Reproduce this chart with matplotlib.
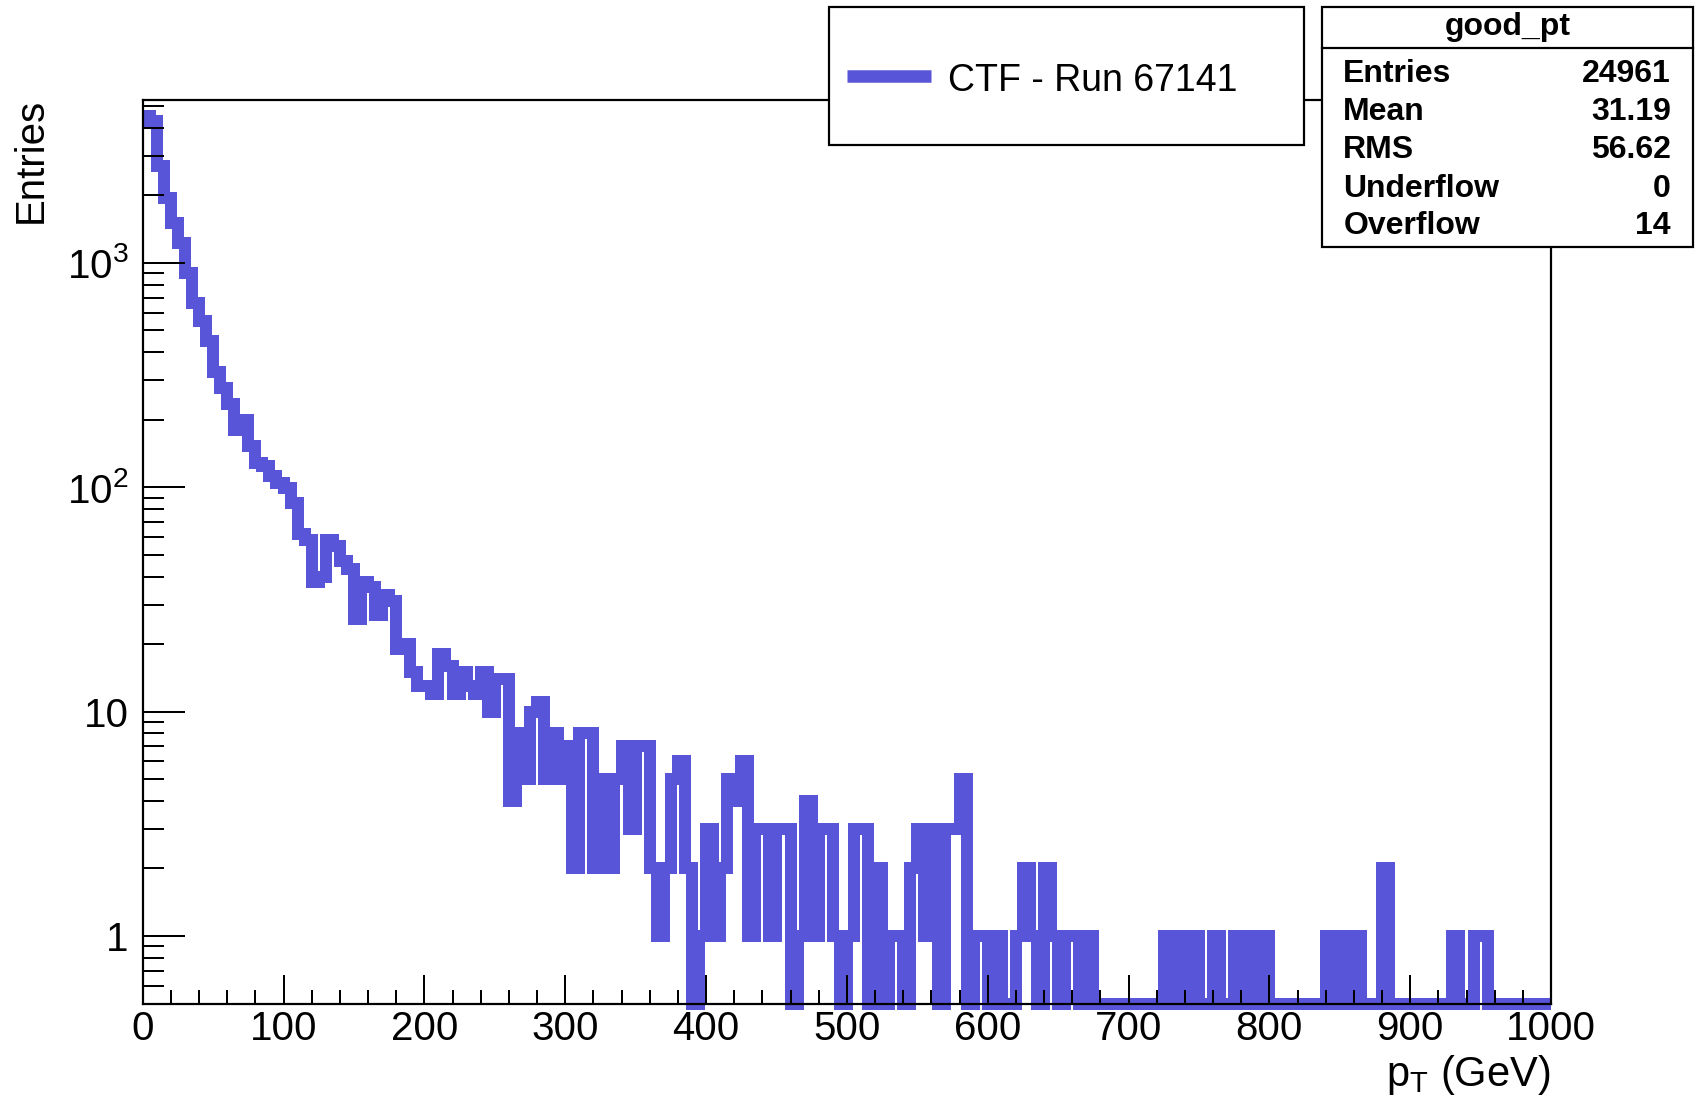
import matplotlib
matplotlib.use("Agg")
import matplotlib.pyplot as plt
import numpy as np
from matplotlib.lines import Line2D
from matplotlib.patches import Rectangle
from matplotlib.ticker import FixedLocator, NullFormatter

plt.rcParams['font.family'] = ['Liberation Sans', 'DejaVu Sans']
plt.rcParams['mathtext.fontset'] = 'custom'
plt.rcParams['mathtext.rm'] = 'Liberation Sans'
plt.rcParams['mathtext.it'] = 'Liberation Sans:italic'
plt.rcParams['mathtext.bf'] = 'Liberation Sans:bold'

# ---------------- data ----------------
x_min, x_max, bin_width = 0, 1000, 5
counts = [
    4500, 4300, 2700, 1950, 1500, 1230, 900, 660, 550, 450,      # 0-50
    325, 277, 234, 180, 200, 152, 128, 125, 112, 104,            # 50-100
    99, 85, 62, 58, 38, 40, 58, 55, 47, 43,                      # 100-150
    26, 38, 36, 27, 33, 31, 19, 20, 15, 13,                      # 150-200
    13, 12, 18, 16, 12, 15, 13, 12, 15, 10,                      # 200-250
    14, 14, 4, 8, 5, 10, 11, 5, 8, 5,                            # 250-300
    7, 2, 8, 8, 2, 5, 2, 5, 7, 3,                                # 300-350
    7, 7, 2, 1, 2, 5, 6, 2, 0, 1,                                # 350-400
    3, 1, 2, 5, 4, 6, 1, 3, 3, 1,                                # 400-450
    3, 3, 0, 1, 4, 1, 3, 3, 1, 0,                                # 450-500
    1, 3, 3, 0, 2, 0, 1, 1, 0, 2,                                # 500-550
    3, 1, 3, 0, 3, 3, 5, 0, 1, 1,                                # 550-600
    0, 1, 0, 0, 1, 2, 1, 0, 2, 1,                                # 600-650
    0, 1, 1, 0, 1, 0, 0, 0, 0, 0,                                # 650-700
    0, 0, 0, 0, 0, 1, 0, 1, 0, 1,                                # 700-750
    0, 0, 1, 0, 0, 1, 0, 1, 0, 1,                                # 750-800
    0, 0, 0, 0, 0, 0, 0, 0, 1, 0,                                # 800-850
    1, 0, 1, 0, 0, 0, 2, 0, 0, 0,                                # 850-900
    0, 0, 0, 0, 0, 0, 1, 0, 0, 1,                                # 900-950
    1, 0, 0, 0, 0, 0, 0, 0, 0, 0,                                # 950-1000
]
y_min, y_max = 0.5, 5350

x_major = [0, 100, 200, 300, 400, 500, 600, 700, 800, 900, 1000]
y_major = [1, 10, 100, 1000]
y_major_labels = ['1', '10', r'$10^{2}$', r'$10^{3}$']

legend_label = 'CTF - Run 67141'
stats_title = 'good_pt'
stats_names = ['Entries', 'Mean', 'RMS', 'Underflow', 'Overflow']
stats_values = ['24961', '31.19', '56.62', '0', '14']

hist_color = '#5955d8'

# ---------------- figure ----------------
W, H = 1700, 1103
fig = plt.figure(figsize=(W / 100, H / 100), dpi=100)


def fx(x):
    return x / W


def fy(y):
    return 1 - y / H


PX = 72 / 100  # points per pixel

ax_l, ax_r, ax_t, ax_b = 142.7, 1551, 99.5, 1003.5
ax = fig.add_axes([fx(ax_l), fy(ax_b), (ax_r - ax_l) / W, (ax_b - ax_t) / H])

edges = np.arange(x_min, x_max + bin_width, bin_width)
vals = np.array(counts, dtype=float)
disp = np.where(vals > 0, vals, y_min)

ax.set_yscale('log')
ax.stairs(disp, edges, baseline=None, color=hist_color, linewidth=12 * PX,
          joinstyle='miter', clip_on=False, zorder=2)

ax.set_xlim(x_min, x_max)
ax.set_ylim(y_min, y_max)
ax.set_axisbelow(False)

# x ticks
ax.xaxis.set_major_locator(FixedLocator(x_major))
ax.xaxis.set_minor_locator(FixedLocator([v for v in range(0, 1001, 20) if v % 100]))
ax.set_xticklabels([str(v) for v in x_major])

# y ticks
ax.yaxis.set_major_locator(FixedLocator(y_major))
ax.set_yticklabels(y_major_labels)
minor_y = [0.6, 0.7, 0.8, 0.9] + [m * d for d in (1, 10, 100) for m in range(2, 10)] + [2000, 3000, 4000, 5000]
ax.yaxis.set_minor_locator(FixedLocator(minor_y))
ax.yaxis.set_minor_formatter(NullFormatter())

ax.tick_params(axis='x', which='major', direction='in', length=29 * PX, width=2 * PX,
               labelsize=29, pad=5, top=False)
ax.tick_params(axis='x', which='minor', direction='in', length=14 * PX, width=2 * PX, top=False)
ax.tick_params(axis='y', which='major', direction='in', length=42 * PX, width=2 * PX,
               labelsize=29, pad=10, right=False)
ax.tick_params(axis='y', which='minor', direction='in', length=21 * PX, width=2 * PX, right=False)

for s in ax.spines.values():
    s.set_linewidth(2.2 * PX)
    s.set_zorder(3)

# axis titles
fig.text(fx(1550), fy(1086), r'$\mathregular{p_{T}}$ (GeV)', ha='right', va='baseline', fontsize=30)
fig.text(fx(31), fy(98), 'Entries', rotation=90, ha='center', va='top', fontsize=29)

# ---------------- legend box ----------------
lg_l, lg_r, lg_t, lg_b = 829.3, 1304, 7.3, 145
fig.add_artist(Rectangle((fx(lg_l), fy(lg_b)), (lg_r - lg_l) / W, (lg_b - lg_t) / H,
                         transform=fig.transFigure, facecolor='white', edgecolor='black',
                         linewidth=2.2 * PX, zorder=5))
fig.add_artist(Line2D([fx(846.7), fx(931)], [fy(76.3), fy(76.3)], transform=fig.transFigure,
                      color=hist_color, linewidth=12.5 * PX, solid_capstyle='butt', zorder=6))
fig.text(fx(947.7), fy(90.7), legend_label, ha='left', va='baseline', fontsize=27, zorder=6)

# ---------------- stats box ----------------
st_l, st_r, st_t, st_b, st_sep = 1321.7, 1693.3, 7.3, 246.7, 48.3
fig.add_artist(Rectangle((fx(st_l), fy(st_b)), (st_r - st_l) / W, (st_b - st_t) / H,
                         transform=fig.transFigure, facecolor='white', edgecolor='black',
                         linewidth=2.2 * PX, zorder=5))
fig.add_artist(Line2D([fx(st_l), fx(st_r)], [fy(st_sep), fy(st_sep)], transform=fig.transFigure,
                      color='black', linewidth=2.2 * PX, zorder=6))
fig.text(fx((st_l + st_r) / 2), fy(35), stats_title, ha='center', va='baseline',
         fontsize=23, fontweight='bold', zorder=6)
row_baselines = [82, 120, 158, 196.5, 233.5]
for name, val, yb in zip(stats_names, stats_values, row_baselines):
    fig.text(fx(1343.3), fy(yb), name, ha='left', va='baseline', fontsize=23,
             fontweight='bold', zorder=6)
    fig.text(fx(1670.7), fy(yb), val, ha='right', va='baseline', fontsize=23,
             fontweight='bold', zorder=6)

fig.savefig('out.png', dpi=100)
